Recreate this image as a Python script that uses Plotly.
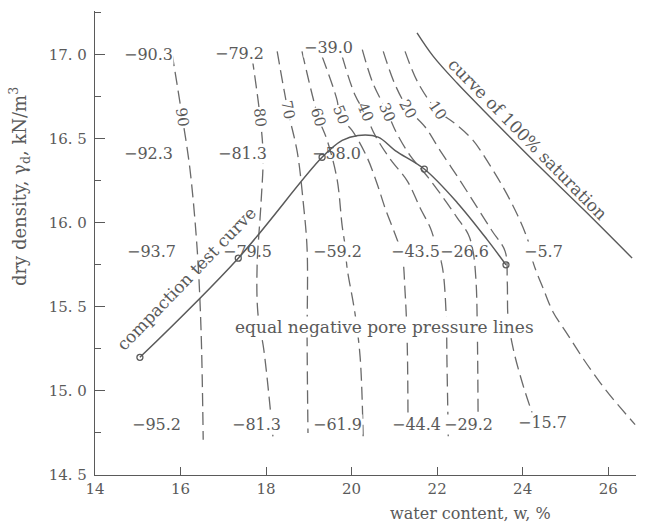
import plotly.graph_objects as go

# ---------------- data ----------------
# compaction test curve (water content %, dry density kN/m3)
comp_w = [15.05, 17.35, 19.31, 19.78, 20.15, 20.62, 21.02, 21.70, 22.47, 23.17, 23.61]
comp_d = [15.20, 15.79, 16.39, 16.49, 16.52, 16.51, 16.43, 16.32, 16.12, 15.90, 15.75]
test_w = [15.05, 17.35, 19.31, 21.70, 23.61]
test_d = [15.20, 15.79, 16.39, 16.32, 15.75]

# curve of 100% saturation
sat_w = [21.53, 21.91, 22.47, 23.08, 23.78, 24.41, 25.46, 26.56]
sat_d = [17.13, 16.99, 16.83, 16.67, 16.49, 16.33, 16.07, 15.79]

# equal negative pore pressure lines (kPa)
iso_levels = ["90", "80", "70", "60", "50", "40", "30", "20", "10"]
iso_w = {
    "90": [15.80, 16.04, 16.22, 16.39, 16.48, 16.53],
    "80": [17.67, 17.86, 17.93, 17.88, 17.79, 17.81, 17.95, 18.16],
    "70": [18.26, 18.51, 18.73, 18.87, 18.96, 18.96, 18.98],
    "60": [18.84, 19.22, 19.43, 19.66, 19.78, 19.85, 19.89, 20.08, 20.20, 20.27],
    "50": [19.31, 19.66, 19.73, 20.01, 20.36, 20.60, 20.78, 21.02, 21.18, 21.25, 21.30, 21.32],
    "40": [19.78, 20.08, 20.32, 20.55, 20.90, 21.30, 21.60, 21.84, 21.98, 22.12, 22.21, 22.23, 22.26],
    "30": [20.25, 20.50, 20.83, 21.04, 21.37, 21.79, 22.14, 22.47, 22.73, 22.84, 22.91, 22.94, 22.96],
    "20": [20.74, 21.02, 21.32, 21.72, 22.07, 22.54, 22.94, 23.29, 23.59, 23.64, 23.66, 23.78, 23.99, 24.22],
    "10": [21.25, 21.56, 22.00, 22.42, 22.84, 23.24, 23.59, 23.89, 24.13, 24.25, 24.48, 24.71, 25.04,
           25.42, 25.81, 26.12, 26.63],
}
iso_d = {
    "90": [17.01, 16.63, 16.32, 15.84, 15.36, 14.71],
    "80": [16.99, 16.63, 16.40, 16.11, 15.74, 15.46, 15.24, 14.73],
    "70": [17.02, 16.67, 16.42, 16.12, 15.84, 15.30, 14.75],
    "60": [17.02, 16.63, 16.49, 16.26, 15.98, 15.86, 15.74, 15.46, 15.20, 14.73],
    "50": [16.99, 16.73, 16.63, 16.55, 16.39, 16.23, 16.09, 15.93, 15.81, 15.59, 15.29, 14.73],
    "40": [16.99, 16.76, 16.65, 16.52, 16.38, 16.25, 16.09, 15.97, 15.86, 15.74, 15.46, 15.17, 14.73],
    "30": [17.03, 16.83, 16.66, 16.54, 16.40, 16.27, 16.15, 16.03, 15.93, 15.83, 15.65, 15.35, 14.73],
    "20": [17.02, 16.82, 16.68, 16.57, 16.43, 16.25, 16.09, 15.95, 15.83, 15.65, 15.43, 15.25, 15.05, 14.87],
    "10": [17.02, 16.83, 16.67, 16.59, 16.49, 16.34, 16.19, 16.04, 15.89, 15.76, 15.61, 15.47, 15.34,
           15.19, 15.05, 14.95, 14.80],
}
# level label positions and angles along each line
lab_w = [16.04, 17.86, 18.51, 19.22, 19.75, 20.32, 20.83, 21.32, 22.00]
lab_d = [16.63, 16.63, 16.67, 16.63, 16.64, 16.66, 16.66, 16.68, 16.67]
lab_ang = [81, 84, 79, 74, 68, 67, 67, 61, 55]

# measured pore pressure values
val_text = ["−90.3", "−79.2", "−39.0",
            "−92.3", "−81.3", "−58.0",
            "−93.7", "−79.5", "−59.2", "−43.5", "−26.6", "−5.7",
            "−95.2", "−81.3", "−61.9", "−44.4", "−29.2", "−15.7"]
val_w = [15.24, 17.39, 19.45,
         15.24, 17.44, 19.64,
         15.33, 17.56, 19.66, 21.49, 22.65, 24.48,
         15.43, 17.77, 19.68, 21.51, 22.73, 24.46]
val_d = [17.00, 17.01, 17.04,
         16.41, 16.41, 16.41,
         15.83, 15.83, 15.83, 15.83, 15.83, 15.83,
         14.80, 14.80, 14.80, 14.80, 14.80, 14.81]
# labels that sit on the compaction curve get no white backing
val_plain = {"−58.0", "−79.5", "−26.6"}

x_ticks = [14, 16, 18, 20, 22, 24, 26]
x_ticktext = ["14", "16", "18", "20", "22", "24", "26"]
y_ticks = [14.5, 15.0, 15.5, 16.0, 16.5, 17.0]
y_ticktext = ["14. 5", "15. 0", "15. 5", "16. 0", "16. 5", "17. 0"]
y_minor = [14.75, 15.25, 15.75, 16.25, 16.75, 17.25]

# ---------------- figure ----------------
INK = "#5a5a5a"
FONT = "DejaVu Serif"

fig = go.Figure()

for lv in iso_levels:
    fig.add_trace(go.Scatter(
        x=iso_w[lv], y=iso_d[lv], mode="lines", line_shape="spline",
        line=dict(color="#6a6a6a", width=1.3, dash="13px,6px"),
        hoverinfo="skip", showlegend=False))

fig.add_trace(go.Scatter(
    x=sat_w, y=sat_d, mode="lines", line_shape="spline",
    line=dict(color=INK, width=1.4), showlegend=False, hoverinfo="skip"))

fig.add_trace(go.Scatter(
    x=comp_w, y=comp_d, mode="lines", line_shape="spline",
    line=dict(color=INK, width=1.5), showlegend=False, hoverinfo="skip"))
fig.add_trace(go.Scatter(
    x=test_w, y=test_d, mode="markers",
    marker=dict(symbol="circle-open", size=6, color=INK, line=dict(width=1.3)),
    showlegend=False, hoverinfo="skip"))

ann = []
for t, w, d, a in zip(iso_levels, lab_w, lab_d, lab_ang):
    ann.append(dict(x=w, y=d, xref="x", yref="y", text=t, showarrow=False,
                    textangle=a, bgcolor="white", borderpad=0, xanchor="center",
                    font=dict(family=FONT, size=15, color=INK)))
for t, w, d in zip(val_text, val_w, val_d):
    ann.append(dict(x=w, y=d, xref="x", yref="y", text=t, showarrow=False,
                    bgcolor=None if t in val_plain else "white", borderpad=0,
                    xanchor="center",
                    font=dict(family=FONT, size=16, color=INK)))

ann += [
    dict(x=16.13, y=15.665, xref="x", yref="y", text="compaction test curve",
         showarrow=False, textangle=-46, xanchor="center",
         font=dict(family=FONT, size=17, color=INK)),
    dict(x=24.12, y=16.50, xref="x", yref="y", text="curve of 100% saturation",
         showarrow=False, textangle=45.5, xanchor="center",
         font=dict(family=FONT, size=17, color=INK)),
    dict(x=20.78, y=15.38, xref="x", yref="y", text="equal negative pore pressure lines",
         showarrow=False, bgcolor="white", borderpad=0, xanchor="center",
         font=dict(family=FONT, size=17, color=INK)),
    dict(x=0.695, y=-0.082, xref="paper", yref="paper", text="water content, w, %",
         showarrow=False, xanchor="center", yanchor="middle",
         font=dict(family=FONT, size=16, color=INK)),
    dict(x=-0.14, y=0.621, xref="paper", yref="paper",
         text="dry density, γ<sub>d</sub>, kN/m<sup>3</sup>", textangle=-90,
         showarrow=False, xanchor="center", yanchor="middle",
         font=dict(family=FONT, size=18, color=INK)),
]

fig.update_layout(
    width=645, height=525,
    margin=dict(l=95, r=9, t=11, b=50),
    paper_bgcolor="white", plot_bgcolor="white",
    annotations=ann,
    xaxis=dict(range=[14, 26.65], showline=True, linecolor=INK, linewidth=1.4,
               ticks="inside", ticklen=8, tickcolor=INK, tickwidth=1.3,
               tickvals=x_ticks, ticktext=x_ticktext, showgrid=False, zeroline=False,
               tickfont=dict(family=FONT, size=15, color=INK)),
    yaxis=dict(range=[14.5, 17.26], showline=True, linecolor=INK, linewidth=1.4,
               ticks="inside", ticklen=10, tickcolor=INK, tickwidth=1.3,
               tickvals=y_ticks, ticktext=y_ticktext, showgrid=False, zeroline=False,
               ticklabelstandoff=4,
               minor=dict(tickvals=y_minor, ticks="inside", ticklen=6,
                          tickcolor=INK, tickwidth=1.2, showgrid=False),
               tickfont=dict(family=FONT, size=15, color=INK)),
)

fig.write_html("out.html")
